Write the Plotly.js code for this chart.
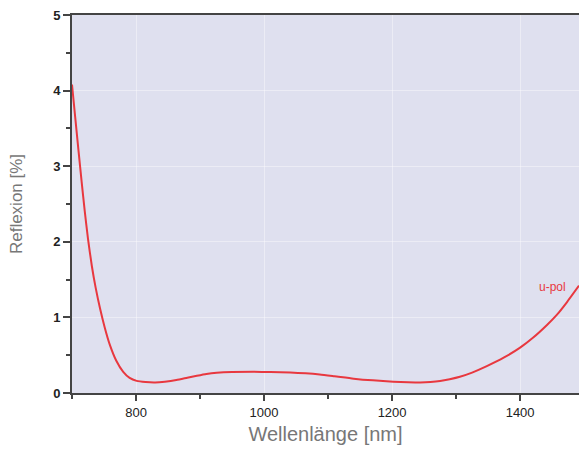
<!DOCTYPE html>
<html>
<head>
<meta charset="utf-8">
<script src="https://cdn.plot.ly/plotly-3.0.1.min.js"></script>
<style>html,body{margin:0;padding:0;background:#fff;}#chart{width:579px;height:457px;}</style>
</head>
<body>
<div id="chart"></div>
<script>
const wavelength = [700, 705, 710, 715, 720, 725, 731, 737, 744, 751, 759, 769, 780, 790, 801, 815, 830, 845, 863, 880, 895, 910, 926, 950, 983, 1010, 1041, 1065, 1087, 1110, 1140, 1170, 1202, 1225, 1244, 1260, 1275, 1290, 1306, 1325, 1348, 1375, 1400, 1420, 1442, 1458, 1473, 1492];
const reflexion = [4.08, 3.65, 3.22, 2.80, 2.40, 2.04, 1.68, 1.39, 1.11, 0.87, 0.64, 0.43, 0.28, 0.20, 0.16, 0.145, 0.14, 0.15, 0.172, 0.202, 0.228, 0.252, 0.268, 0.278, 0.28, 0.278, 0.27, 0.26, 0.245, 0.222, 0.19, 0.167, 0.15, 0.143, 0.14, 0.145, 0.158, 0.182, 0.215, 0.27, 0.355, 0.47, 0.60, 0.73, 0.90, 1.04, 1.20, 1.42];
const seriesName = "u-pol";
const xTickVals = [800, 1000, 1200, 1400];
const yTickVals = [0, 1, 2, 3, 4, 5];

const trace = {
  x: wavelength, y: reflexion, type: "scatter", mode: "lines", name: seriesName,
  line: {color: "#e8383f", width: 2, shape: "spline", smoothing: 0.6},
  hoverinfo: "skip"
};

const layout = {
  width: 579, height: 457,
  margin: {l: 72, r: 0, t: 15, b: 64},
  paper_bgcolor: "#ffffff",
  plot_bgcolor: "#dfe0ef",
  showlegend: false,
  font: {family: "Liberation Sans, Arial, sans-serif", color: "#333"},
  xaxis: {
    range: [700, 1492],
    tickvals: xTickVals,
    ticks: "outside", ticklen: 6, tickwidth: 2, tickcolor: "#444",
    minor: {dtick: 100, tick0: 700, ticks: "outside", ticklen: 4, tickwidth: 2, tickcolor: "#444", showgrid: false},
    showline: true, linecolor: "#444", linewidth: 2, mirror: true,
    showgrid: true, gridcolor: "rgba(255,255,255,0.4)", gridwidth: 1,
    zeroline: false,
    tickfont: {size: 13, color: "#222"},
    title: {text: "Wellenlänge [nm]", font: {size: 20, color: "#777"}, standoff: 8}
  },
  yaxis: {
    range: [0, 5],
    tickvals: yTickVals,
    ticks: "outside", ticklen: 7, tickwidth: 2, tickcolor: "#444",
    minor: {dtick: 0.5, tick0: 0, ticks: "outside", ticklen: 4, tickwidth: 2, tickcolor: "#444", showgrid: false},
    showline: true, linecolor: "#444", linewidth: 2,
    showgrid: true, gridcolor: "rgba(255,255,255,0.4)", gridwidth: 1,
    zeroline: false,
    tickfont: {size: 13, color: "#222", weight: "bold"},
    title: {text: "Reflexion [%]", font: {size: 17, color: "#777"}, standoff: 26}
  },
  annotations: [{
    x: 1450, y: 1.40, xref: "x", yref: "y", text: seriesName, showarrow: false,
    xanchor: "center", yanchor: "middle",
    font: {size: 12, color: "#e8383f"}
  }]
};

Plotly.newPlot("chart", [trace], layout, {staticPlot: true, displayModeBar: false});
</script>
</body>
</html>
